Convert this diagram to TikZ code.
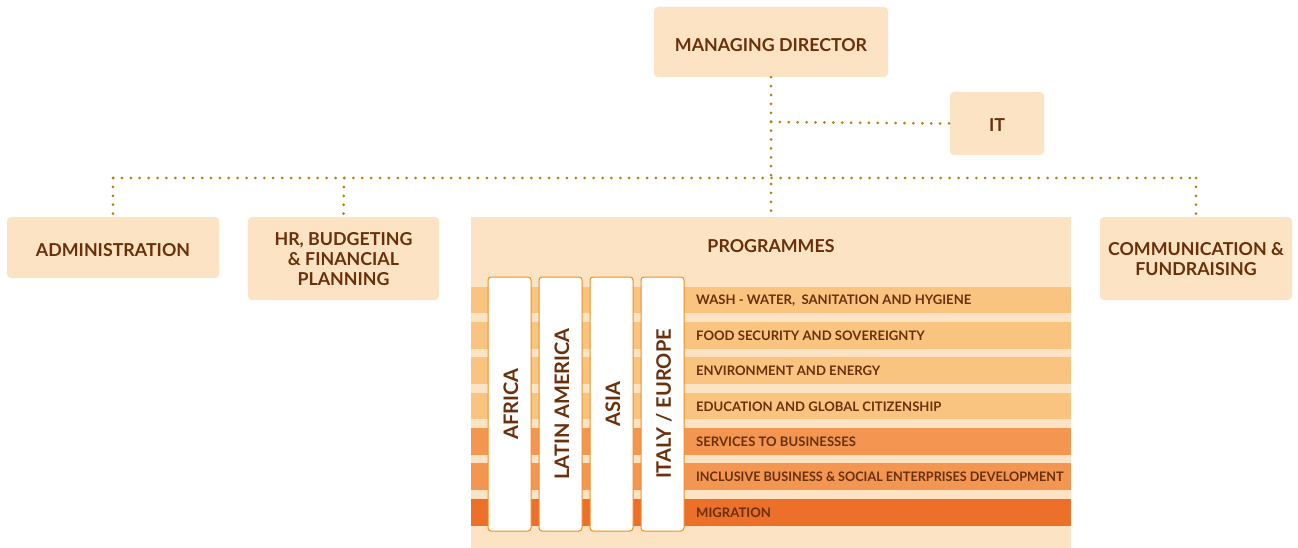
\documentclass[tikz,border=0pt]{standalone}
\usepackage{fontspec}
\setmainfont{Lato}
\definecolor{peach}{HTML}{FCE3C3}
\definecolor{stripeA}{HTML}{F8C47F}
\definecolor{stripeB}{HTML}{F29652}
\definecolor{stripeC}{HTML}{EC6F2A}
\definecolor{txt}{HTML}{6A300C}
\definecolor{dotc}{HTML}{B4820A}
\definecolor{colborder}{HTML}{F28C1E}
\begin{document}
\begin{tikzpicture}[x=1pt,y=-1pt,
  box/.style={fill=peach,rounded corners=4pt,text=txt,font=\bfseries\fontsize{17.8}{20}\selectfont,align=center,inner sep=0pt},
  dots/.style={draw=dotc,line width=3pt,line cap=round,dash pattern=on 0pt off 8.9pt},
  stripe/.style={inner sep=0pt,text=txt,font=\bfseries\fontsize{13.1}{14}\selectfont},
  col/.style={fill=white,draw=colborder,line width=1pt,rounded corners=3pt},
  coltext/.style={text=txt,font=\bfseries\fontsize{20}{22}\selectfont,rotate=90,inner sep=0pt}]
\useasboundingbox (0,0) rectangle (1298,548);
% boxes
\node[box,minimum width=234pt,minimum height=70pt] (md) at (771,42) {};
\node[box,fill=none] (mdt) at (771,45) {MANAGING DIRECTOR};
\node[box,minimum width=94pt,minimum height=63pt] (it) at (997,123.5) {};
\node[box,fill=none] (itt) at (997,125) {IT};
\node[box,minimum width=212pt,minimum height=61pt] (adm) at (113,247.5) {};
\node[box,fill=none] (admt) at (113,250.5) {ADMINISTRATION};
\node[box,minimum width=191pt,minimum height=83pt] (hr) at (343.5,258.5) {};
\node[box,fill=none] (hrt) at (343.5,259.5) {HR, BUDGETING\\\& FINANCIAL\\PLANNING};
\node[box,minimum width=192pt,minimum height=83pt] (com) at (1196,258.5) {};
\node[box,fill=none] (comt) at (1196,259) {COMMUNICATION \&\\FUNDRAISING};
\fill[peach] (471,217) rectangle (1071,548);
\node[box,fill=none] (prog) at (771,246.5) {PROGRAMMES};
\coordinate (progtop) at (771,216);
% stripes
\fill[stripeA] (471,287) rectangle (1071,313);
\fill[stripeA] (471,322) rectangle (1071,349);
\fill[stripeA] (471,357) rectangle (1071,384);
\fill[stripeA] (471,393) rectangle (1071,419);
\fill[stripeB] (471,428) rectangle (1071,455);
\fill[stripeB] (471,463) rectangle (1071,490);
\fill[stripeC] (471,499) rectangle (1071,526);
\node[stripe,anchor=west] (s1) at (696,300.5) {WASH - WATER,\ \ SANITATION AND HYGIENE};
\node[stripe,anchor=west] (s2) at (696,336) {FOOD SECURITY AND SOVEREIGNTY};
\node[stripe,anchor=west] (s3) at (696,371) {ENVIRONMENT AND ENERGY};
\node[stripe,anchor=west] (s4) at (696,406.5) {EDUCATION AND GLOBAL CITIZENSHIP};
\node[stripe,anchor=west] (s5) at (696,442) {SERVICES TO BUSINESSES};
\node[stripe,anchor=west] (s6) at (696,477) {\scalebox{0.965}[1]{INCLUSIVE BUSINESS \& SOCIAL ENTERPRISES DEVELOPMENT}};
\node[stripe,anchor=west] (s7) at (696,513) {MIGRATION};
% columns
\draw[col] (488,277) rectangle (531,531);
\draw[col] (539,277) rectangle (582,531);
\draw[col] (590,277) rectangle (633,531);
\draw[col] (641,277) rectangle (684,531);
\node[coltext] (c1) at (511,404) {AFRICA};
\node[coltext] (c2) at (562,404) {LATIN AMERICA};
\node[coltext] (c3) at (613,404) {ASIA};
\node[coltext] (c4) at (664,404) {ITALY / EUROPE};
% connectors
\coordinate (itj) at (771,122);
\coordinate (busL) at (113,178);
\coordinate (busH) at (344,178);
\coordinate (busR) at (1196,178);
\draw[dots] (md.south) -- (progtop);
\draw[dots] (itj) -- (it.west);
\draw[dots] (busL) -- (busR);
\draw[dots] (busL) -- (adm.north);
\draw[dots] (busH) -- (hr.north);
\draw[dots] (busR) -- (com.north);
\end{tikzpicture}
\end{document}
